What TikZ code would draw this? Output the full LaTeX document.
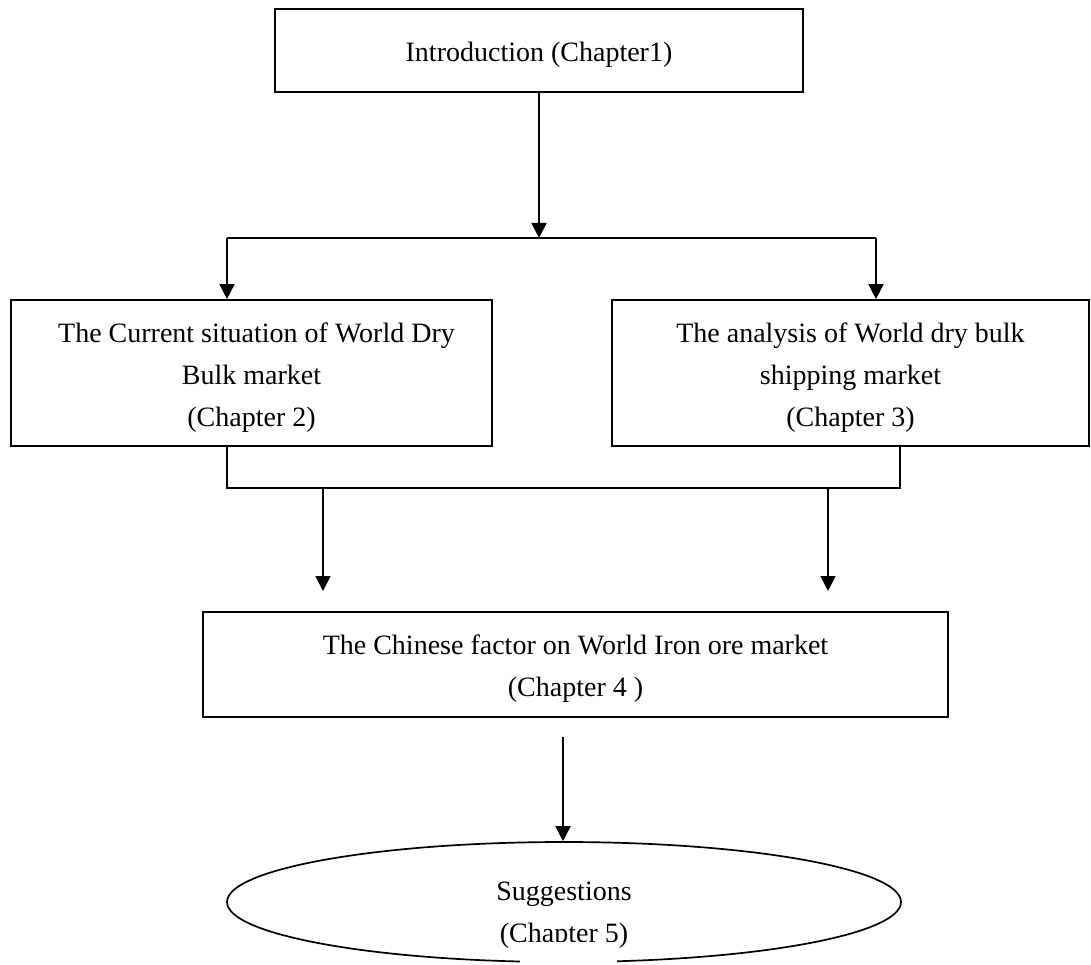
\documentclass[tikz,border=0pt]{standalone}
\usepackage{fontspec}
\setmainfont{Liberation Serif}
\usetikzlibrary{arrows.meta,shapes.geometric}
\newcommand{\tstrut}{\rule{0pt}{28pt}}
\begin{document}
\begin{tikzpicture}[x=1pt,y=-1pt,
  box/.style={draw,line width=1.7pt,rectangle,inner sep=0pt,align=center,font=\fontsize{28}{42}\selectfont},
  conn/.style={line width=1.7pt},
  arr/.style={conn,-{Triangle[width=15pt,length=15pt]}},
  txt/.style={align=center,font=\fontsize{28}{42}\selectfont,inner sep=0pt}]
\useasboundingbox (0,0) rectangle (1091,965);
\node[box,minimum width=528pt,minimum height=83pt] (intro) at (539,50.5) {\tstrut Introduction (Chapter1)};
\node[box,minimum width=481pt,minimum height=146pt] (left) at (251.5,373) {\tstrut\hspace*{10pt}The Current situation of World Dry\\Bulk market\\(Chapter 2)};
\node[box,minimum width=477pt,minimum height=146pt] (right) at (850.5,373) {\tstrut The analysis of World dry bulk\\shipping market\\(Chapter 3)};
\node[box,minimum width=745pt,minimum height=105pt] (china) at (575.5,664.5) {\tstrut The Chinese factor on World Iron ore market\\(Chapter 4 )};
\node[draw,ellipse,line width=1.7pt,inner sep=0pt,minimum width=674pt,minimum height=120pt] (sugg) at (564,902) {};
\node[txt] (sugtxt) at (564,910) {\tstrut Suggestions\\(Chapter 5)};
\fill[white] (520,941.5) rectangle (617,966);
% connectors
\coordinate (j1) at (539,238);
\coordinate (jl) at (227,238);
\coordinate (jr) at (876,238);
\draw[arr] (intro.south) -- (j1);
\draw[conn] (jl) -- (jr);
\draw[arr] (jl) -- (jl |- left.north);
\draw[arr] (jr) -- (jr |- right.north);
\coordinate (bl) at (227,488);
\coordinate (br) at (900,488);
\draw[conn] (bl |- left.south) -- (bl) -- (br) -- (br |- right.south);
\coordinate (a1s) at (323,488);
\coordinate (a1e) at (323,591);
\coordinate (a2s) at (828,488);
\coordinate (a2e) at (828,591);
\draw[arr] (a1s) -- (a1e);
\draw[arr] (a2s) -- (a2e);
\coordinate (c4) at (563,737);
\draw[arr] (c4) -- (c4 |- sugg.north);
\end{tikzpicture}
\end{document}
